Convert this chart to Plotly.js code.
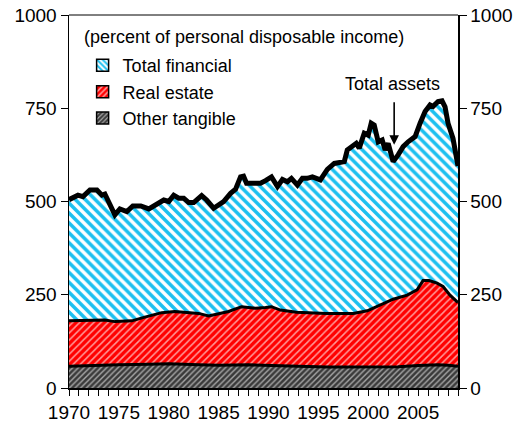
<!DOCTYPE html>
<html>
<head>
<meta charset="utf-8">
<script src="https://cdn.plot.ly/plotly-3.0.1.min.js"></script>
<style>html,body{margin:0;padding:0;background:#fff;}#chart{width:524px;height:432px;}</style>
</head>
<body>
<div id="chart"></div>
<script>
// Total assets (percent of personal disposable income)
const totalYears = [1970.0,1970.5,1970.9,1971.4,1972.1,1972.8,1973.3,1973.6,1974.1,1974.6,1975.1,1975.8,1976.4,1977.2,1978.0,1978.6,1979.5,1980.0,1980.5,1981.0,1981.5,1982.0,1982.5,1983.3,1983.8,1984.5,1985.2,1985.5,1986.2,1986.7,1987.2,1987.5,1987.8,1988.5,1989.2,1989.7,1990.3,1990.9,1991.4,1991.9,1992.3,1992.9,1993.4,1993.9,1994.4,1995.2,1995.9,1996.6,1997.6,1997.9,1998.4,1998.8,1999.1,1999.6,2000.0,2000.3,2000.6,2000.8,2001.0,2001.4,2001.7,2002.0,2002.5,2003.0,2003.5,2004.0,2004.7,2005.2,2005.7,2006.2,2006.5,2007.0,2007.4,2007.7,2008.0,2008.5,2009.0];
const totalAssets = [505,510,517,513,531,531,517,520,490,464,480,473,488,488,480,490,504,500,517,509,509,497,497,516,504,482,495,500,522,533,566,568,549,549,549,556,566,540,559,553,562,544,562,562,566,558,586,602,607,638,647,656,643,683,678,710,705,683,660,665,638,656,607,625,647,660,674,710,741,759,755,768,770,754,710,669,595];

// Real estate plus other tangible (cumulative level)
const realYears = [1970.0,1971.6,1973.6,1974.6,1976.3,1977.6,1979.3,1980.6,1982.0,1983.0,1984.0,1985.0,1986.0,1987.3,1988.7,1989.7,1990.3,1991.2,1992.8,1995.8,1998.5,1999.9,2001.2,2002.5,2003.9,2004.9,2005.5,2006.1,2006.9,2007.5,2008.2,2009.0];
const realEstateTop = [180,180,182,178,180,190,202,205,202,200,193,198,205,218,214,216,218,209,203,200,200,207,222,238,249,263,288,288,281,272,249,229];

// Other tangible
const otherYears = [1970,1972,1975,1978,1980,1983,1985,1988,1990,1993,1996,2000,2003,2005,2007,2008,2009];
const otherTangible = [58,60,62,64,65,62,61,62,60,58,56,56,57,60,62,61,58];

const yTicks = [0,250,500,750,1000];
const xTicks = [1970,1975,1980,1985,1990,1995,2000,2005];
const seriesNames = ['Total financial','Real estate','Other tangible'];

const FONT = 'Arial, "Liberation Sans", sans-serif';
const patFin = {shape:'\\', bgcolor:'#ffffff', fgcolor:'#1cc0f0', size:7, solidity:0.5};
const patReal = {shape:'/', bgcolor:'#ff0000', fgcolor:'#ff9a9a', size:5, solidity:0.3};
const patOther = {shape:'/', bgcolor:'#3a3a3a', fgcolor:'#a8a8a8', size:4, solidity:0.35};

const traces = [
  {x:otherYears, y:otherTangible, type:'scatter', mode:'lines', fill:'tozeroy',
   fillcolor:'#3a3a3a', fillpattern:patOther, line:{color:'#000', width:3}, showlegend:false, hoverinfo:'skip'},
  {x:realYears, y:realEstateTop, type:'scatter', mode:'lines', fill:'tonexty',
   fillcolor:'#ff0000', fillpattern:patReal, line:{color:'#000', width:3}, showlegend:false, hoverinfo:'skip'},
  {x:totalYears, y:totalAssets, type:'scatter', mode:'lines', fill:'tonexty',
   fillcolor:'#ffffff', fillpattern:patFin, line:{color:'#000', width:0.5}, showlegend:false, hoverinfo:'skip'},
  {x:totalYears, y:totalAssets, type:'scatter', mode:'lines', yaxis:'y2',
   line:{color:'#000', width:5}, showlegend:false, hoverinfo:'skip'},
  {x:[null], y:[null], type:'bar', name:seriesNames[0], marker:{color:'#1cc0f0', pattern:{shape:'\\', bgcolor:'#fff', fgcolor:'#1cc0f0', size:5, solidity:0.5}, line:{color:'#000', width:1.5}}},
  {x:[null], y:[null], type:'bar', name:seriesNames[1], marker:{color:'#ff0000', pattern:{shape:'/', bgcolor:'#ff0000', fgcolor:'#ffb0b0', size:5, solidity:0.35}, line:{color:'#000', width:1.5}}},
  {x:[null], y:[null], type:'bar', name:seriesNames[2], marker:{color:'#3a3a3a', pattern:{shape:'/', bgcolor:'#3a3a3a', fgcolor:'#b0b0b0', size:4, solidity:0.35}, line:{color:'#000', width:1.5}}}
];

const layout = {
  width:524, height:432,
  margin:{l:69, r:66, t:15, b:44},
  paper_bgcolor:'#fff', plot_bgcolor:'#fff',
  font:{family:FONT, size:18, color:'#000'},
  showlegend:true,
  legend:{x:0.035, y:0.914, xanchor:'left', yanchor:'top', bgcolor:'rgba(0,0,0,0)',
          font:{family:FONT, size:18}, tracegroupgap:0, traceorder:'normal'},
  xaxis:{range:[1970,2009], tickvals:xTicks, ticktext:xTicks.map(String), ticks:'outside', ticklen:6, tickwidth:1,
         tickcolor:'#000', showgrid:false, zeroline:false, showline:true, linecolor:'#000', linewidth:2,
         minor:{dtick:1, ticks:'outside', ticklen:6, tickcolor:'#000', tickwidth:1, showgrid:false},
         tickfont:{family:FONT, size:19}, fixedrange:true},
  yaxis:{range:[0,1000], tickvals:yTicks, ticktext:yTicks.map(String), ticks:'outside', ticklen:7, tickcolor:'#000',
         showgrid:false, zeroline:false, showline:true, linecolor:'#000', linewidth:1.5, mirror:false,
         tickfont:{family:FONT, size:19}, fixedrange:true},
  yaxis2:{range:[0,1000], overlaying:'y', side:'right', tickvals:yTicks, ticktext:yTicks.map(String), ticks:'outside', ticklen:7,
          tickcolor:'#000', showgrid:false, zeroline:false, showline:true, linecolor:'#000', linewidth:1.5,
          tickfont:{family:FONT, size:19}, fixedrange:true},
  shapes:[
    {type:'line', xref:'paper', yref:'paper', x0:0, x1:1, y0:1, y1:1, line:{color:'#000', width:1}}
  ],
  annotations:[
    {xref:'paper', yref:'paper', x:0.451, y:0.94, text:'(percent of personal disposable income)', showarrow:false,
     font:{family:FONT, size:18}, xanchor:'center', yanchor:'middle'},
    {xref:'x', yref:'y', x:2002.4, y:815, text:'Total assets', showarrow:false,
     font:{family:FONT, size:18}, xanchor:'center', yanchor:'middle'},
    {xref:'x', yref:'y', x:2002.6, y:652, text:'', showarrow:true, ax:0, ay:-44,
     arrowhead:2, arrowsize:1.2, arrowwidth:1.6, arrowcolor:'#000'}
  ]
};

Plotly.newPlot('chart', traces, layout, {displayModeBar:false, staticPlot:true});
</script>
</body>
</html>
